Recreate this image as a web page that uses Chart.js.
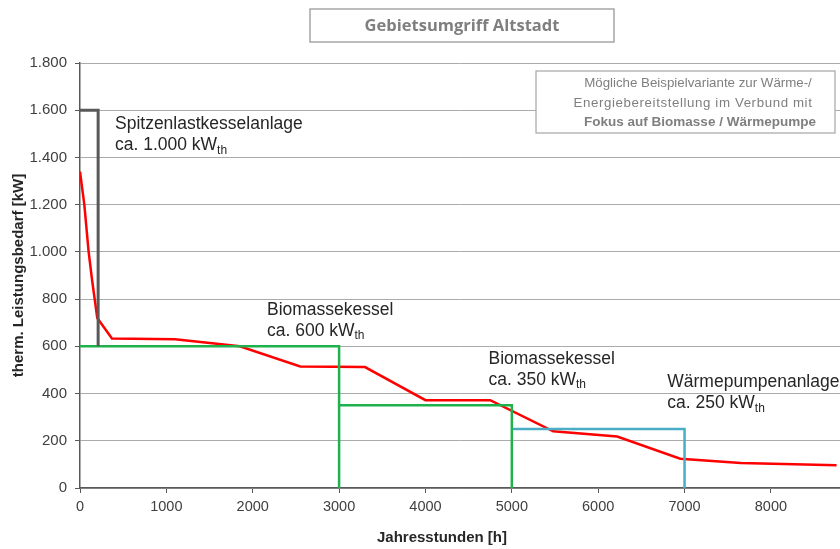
<!DOCTYPE html>
<html>
<head>
<meta charset="utf-8">
<script src="https://cdn.jsdelivr.net/npm/chart.js@4.4.1/dist/chart.umd.min.js"></script>
<style>
  html, body { margin: 0; padding: 0; background: #fff; }
  #wrap { width: 840px; height: 549px; }
</style>
</head>
<body>
<div id="wrap"><canvas id="lastChart" width="840" height="549"></canvas></div>
<script>
// Jahresdauerlinie
const demandHours = [0, 50, 100, 140, 200, 370, 1100, 1850, 2550, 3300, 4000, 4750, 5480, 6220, 6950, 7650, 8760];
const demandKW    = [1340, 1200, 1000, 880, 720, 633, 630, 600, 515, 512, 372, 372, 240, 218, 124, 106, 96];

// Erzeuger-Blöcke
const peakHours = [0, 210, 210];
const peakKW    = [1600, 1600, 600];
const bio1Hours = [0, 3000, 3000];
const bio1KW    = [600, 600, 0];
const bio2Hours = [3000, 5000, 5000];
const bio2KW    = [350, 350, 0];
const hpHours   = [5000, 7000, 7000];
const hpKW      = [250, 250, 0];

const xTicks = [0, 1000, 2000, 3000, 4000, 5000, 6000, 7000, 8000];
const yTicks = [0, 200, 400, 600, 800, 1000, 1200, 1400, 1600, 1800];

const labels = [
    { name: 'Spitzenlastkesselanlage', cap: 'ca. 1.000 kW', x: 405, y: 1540 },
    { name: 'Biomassekessel', cap: 'ca. 600 kW', x: 2165, y: 755 },
    { name: 'Biomassekessel', cap: 'ca. 350 kW', x: 4730, y: 546 },
    { name: 'Wärmepumpenanlage', cap: 'ca. 250 kW', x: 6800, y: 447 }
];

function pts(xs, ys) {
    return xs.map((x, i) => ({ x: x, y: ys[i] }));
}

function fmtDE(v) {
    return String(v).replace(/\B(?=(\d{3})+(?!\d))/g, '.');
}

const boxesPlugin = {
    id: 'boxes',
    afterDraw(chart) {
        const ctx = chart.ctx;
        const xs = chart.scales.x, ys = chart.scales.y;
        ctx.save();

        // Titelkasten
        ctx.fillStyle = '#fff';
        ctx.strokeStyle = '#a6a6a6';
        ctx.lineWidth = 1.5;
        ctx.fillRect(310, 9, 304, 33);
        ctx.strokeRect(310, 9, 304, 33);
        ctx.fillStyle = '#7f7f7f';
        ctx.font = 'bold 16.5px "Open Sans"';
        ctx.textAlign = 'center';
        ctx.textBaseline = 'middle';
        ctx.fillText('Gebietsumgriff Altstadt', 462, 26);

        // Hinweiskasten
        ctx.fillStyle = '#fff';
        ctx.fillRect(536, 71, 299, 62);
        ctx.strokeStyle = '#a6a6a6';
        ctx.lineWidth = 1.2;
        ctx.strokeRect(536, 71, 299, 62);
        ctx.fillStyle = '#7f7f7f';
        ctx.font = '13.3px "Liberation Sans"';
        ctx.fillText('Mögliche Beispielvariante zur Wärme-/', 698, 83);
        ctx.letterSpacing = '0.6px';
        ctx.fillText('Energiebereitstellung im Verbund mit', 693, 103);
        ctx.letterSpacing = '0px';
        ctx.font = 'bold 13.5px "Liberation Sans"';
        ctx.fillText('Fokus auf Biomasse / Wärmepumpe', 700, 122.5);

        // Achsentitel x
        ctx.fillStyle = '#262626';
        ctx.font = 'bold 15px "Liberation Sans"';
        ctx.fillText('Jahresstunden [h]', 442, 538);

        // Beschriftung der Erzeuger
        ctx.textAlign = 'left';
        labels.forEach(l => {
            const px = xs.getPixelForValue(l.x);
            const py = ys.getPixelForValue(l.y);
            ctx.font = '17.5px "Liberation Sans"';
            ctx.fillText(l.name, px, py);
            ctx.fillText(l.cap, px, py + 21);
            const w = ctx.measureText(l.cap).width;
            ctx.font = '12px "Liberation Sans"';
            ctx.fillText('th', px + w, py + 26);
        });
        ctx.restore();
    }
};

const ctx = document.getElementById('lastChart').getContext('2d');

new Chart(ctx, {
    type: 'scatter',
    data: {
        datasets: [
            { data: pts(peakHours, peakKW), borderColor: '#595959', borderWidth: 3 },
            { data: pts(bio1Hours, bio1KW), borderColor: '#1fb14c', borderWidth: 2.5 },
            { data: pts(bio2Hours, bio2KW), borderColor: '#1fb14c', borderWidth: 2.5 },
            { data: pts(hpHours, hpKW), borderColor: '#4bacc6', borderWidth: 2.5 },
            { data: pts(demandHours, demandKW), borderColor: '#ff0000', borderWidth: 2.5 }
        ]
    },
    options: {
        responsive: false,
        animation: false,
        showLine: true,
        layout: { padding: { top: 63, right: 0, bottom: 0, left: 0 } },
        elements: {
            point: { radius: 0, hoverRadius: 0 },
            line: { tension: 0, fill: false }
        },
        plugins: {
            legend: { display: false },
            tooltip: { enabled: false }
        },
        scales: {
            x: {
                type: 'linear',
                min: 0,
                max: 8800,
                afterBuildTicks: s => { s.ticks = xTicks.map(v => ({ value: v })); },
                afterFit: s => { s.height = 61; },
                ticks: {
                    color: '#404040',
                    font: { family: 'Liberation Sans', size: 14.5 },
                    padding: 5,
                    maxRotation: 0,
                    callback: v => String(v)
                },
                grid: { drawOnChartArea: false, drawTicks: true, tickLength: 5, color: '#595959' },
                border: { color: '#595959', width: 1.5 },
                title: { display: false }
            },
            y: {
                min: 0,
                max: 1800,
                afterBuildTicks: s => { s.ticks = yTicks.map(v => ({ value: v })); },
                afterFit: s => { s.width = 80; },
                ticks: {
                    color: '#404040',
                    font: { family: 'Liberation Sans', size: 15 },
                    padding: 8,
                    callback: v => fmtDE(v)
                },
                grid: { color: '#ababab', lineWidth: 1, tickLength: 5, tickColor: '#595959' },
                border: { color: '#595959', width: 1.5 },
                title: {
                    display: true,
                    text: 'therm. Leistungsbedarf [kW]',
                    color: '#262626',
                    font: { family: 'Liberation Sans', size: 15, weight: 'bold' },
                    padding: { top: 10, bottom: 0 }
                }
            }
        }
    },
    plugins: [boxesPlugin]
});
</script>
</body>
</html>
